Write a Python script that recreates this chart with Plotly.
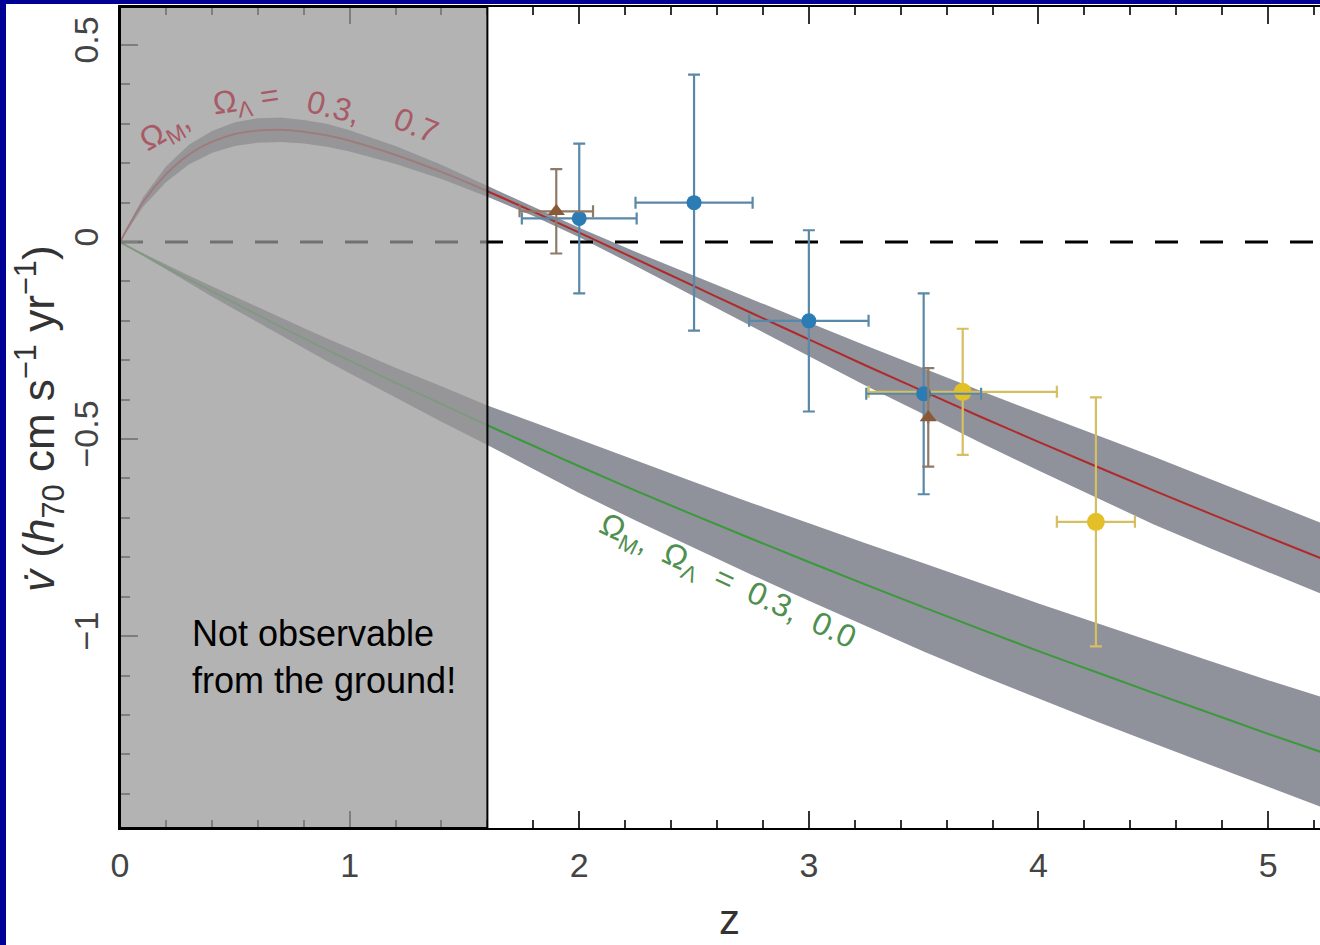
import plotly.graph_objects as go

# ---- data ----
z_curve = [0.0, 0.1, 0.2, 0.3, 0.4, 0.5, 0.6, 0.7, 0.8, 0.9, 1.0, 1.2, 1.4, 1.6, 1.8, 2.0,
           2.25, 2.5, 2.75, 3.0, 3.25, 3.5, 3.75, 4.0, 4.25, 4.5, 4.75, 5.0, 5.25]
v_lcdm = [0.0, 0.101, 0.172, 0.222, 0.254, 0.274, 0.283, 0.285, 0.280, 0.271, 0.257, 0.221,
          0.178, 0.129, 0.077, 0.024, -0.044, -0.112, -0.180, -0.247, -0.314, -0.379,
          -0.444, -0.507, -0.569, -0.630, -0.690, -0.749, -0.807]
hw_lcdm = [0.0, 0.012, 0.020, 0.025, 0.028, 0.030, 0.031, 0.031, 0.030, 0.029, 0.027, 0.023,
           0.018, 0.014, 0.011, 0.012, 0.018, 0.026, 0.034, 0.043, 0.051, 0.058, 0.066,
           0.073, 0.080, 0.086, 0.088, 0.089, 0.090]
v_open = [0.0, -0.032, -0.064, -0.095, -0.125, -0.155, -0.185, -0.215, -0.244, -0.273, -0.301,
          -0.357, -0.411, -0.465, -0.517, -0.569, -0.632, -0.693, -0.753, -0.812, -0.870,
          -0.927, -0.983, -1.038, -1.091, -1.144, -1.196, -1.248, -1.298]
hw_open = [0.0, 0.003, 0.006, 0.010, 0.013, 0.016, 0.019, 0.022, 0.026, 0.029, 0.032, 0.038,
           0.045, 0.050, 0.060, 0.068, 0.076, 0.084, 0.091, 0.098, 0.105, 0.112, 0.117,
           0.121, 0.125, 0.128, 0.132, 0.136, 0.140]

blue_z = [2.0, 2.5, 3.0, 3.5]
blue_v = [0.06, 0.10, -0.20, -0.385]
blue_ez = [0.25, 0.255, 0.26, 0.25]
blue_ev = [0.19, 0.325, 0.23, 0.255]

brown_z = [1.9, 3.52]
brown_v = [0.078, -0.445]
brown_ez = [0.16, 0.0]
brown_ev = [0.107, 0.125]

yellow_z = [3.67, 4.25]
yellow_v = [-0.38, -0.71]
yellow_ez = [0.41, 0.17]
yellow_ev = [0.16, 0.316]

zero_z = [0.0, 5.3]
zero_v = [0.0, 0.0]

x_ticks = [0, 1, 2, 3, 4, 5]
y_ticks = [0.5, 0, -0.5, -1]

FONT = "Liberation Sans, Arial, sans-serif"
BAND = "rgb(143,145,155)"

fig = go.Figure()

# bands
for v, hw, col in [(v_lcdm, hw_lcdm, BAND), (v_open, hw_open, BAND)]:
    up = [a + b for a, b in zip(v, hw)]
    lo = [a - b for a, b in zip(v, hw)]
    fig.add_trace(go.Scatter(x=z_curve, y=up, mode="lines", line=dict(width=0, color=col),
                             showlegend=False, hoverinfo="skip"))
    fig.add_trace(go.Scatter(x=z_curve, y=lo, mode="lines", line=dict(width=0, color=col),
                             fill="tonexty", fillcolor=col, showlegend=False, hoverinfo="skip"))

fig.add_trace(go.Scatter(x=z_curve, y=v_lcdm, mode="lines", line=dict(color="#b02a2a", width=2),
                         line_shape="spline", showlegend=False))
fig.add_trace(go.Scatter(x=z_curve, y=v_open, mode="lines", line=dict(color="#3a9a3a", width=2),
                         line_shape="spline", showlegend=False))

fig.add_trace(go.Scatter(x=zero_z, y=zero_v, mode="lines",
                         line=dict(color="black", width=3, dash="23px,22px"), showlegend=False))

def pts(zs, vs, ez, ev, mcol, bcol, sym, size):
    fig.add_trace(go.Scatter(
        x=zs, y=vs, mode="markers",
        marker=dict(color=mcol, size=size, symbol=sym),
        error_x=dict(type="data", array=ez, color=bcol, thickness=2.2, width=6),
        error_y=dict(type="data", array=ev, color=bcol, thickness=2.2, width=6),
        showlegend=False))

pts(yellow_z, yellow_v, yellow_ez, yellow_ev, "#e3bf28", "#d6bf62", "circle", 18)
pts(blue_z, blue_v, blue_ez, blue_ev, "#2b7bb5", "#5a88a8", "circle", 15)
pts(brown_z, brown_v, brown_ez, brown_ev, "#8a5a38", "#8f7a68", "triangle-up", 15)

# shaded region (not observable)
fig.add_shape(type="rect", xref="x", yref="paper", x0=0, x1=1.6, y0=0, y1=1,
              fillcolor="rgba(152,152,152,0.74)", line=dict(color="black", width=2), layer="above")

# blue frame strips
fig.add_shape(type="rect", xref="paper", yref="paper", x0=-0.1, x1=-0.095, y0=-0.2, y1=1.01,
              fillcolor="#000096", line=dict(width=0))
fig.add_shape(type="rect", xref="paper", yref="paper", x0=-0.1, x1=1.0, y0=1.0037, y1=1.01,
              fillcolor="#000096", line=dict(width=0))

ann = [
    dict(text="Not observable<br>from the ground!", x=0.305, y=-1.053, xref="x", yref="y",
         xanchor="left", yanchor="middle", align="left", showarrow=False,
         font=dict(family=FONT, size=36, color="black")),
    dict(text="Ω<sub>M</sub>,", x=0.200, y=0.280, textangle=-30),
    dict(text="Ω<sub>Λ</sub> =", x=0.548, y=0.356, textangle=-8),
    dict(text="0.3,", x=0.928, y=0.343, textangle=14),
    dict(text="0.7", x=1.289, y=0.297, textangle=22),
]
for a in ann[1:]:
    a.update(xref="x", yref="y", showarrow=False, xanchor="center", yanchor="middle",
             font=dict(family=FONT, size=32, color="#a85a66"))
fig.update_layout(annotations=ann)
fig.add_annotation(text="Ω<sub>M</sub>,  Ω<sub>Λ</sub>  =  0.3,  0.0", x=2.644, y=-0.865,
                   xref="x", yref="y", textangle=25, showarrow=False,
                   font=dict(family=FONT, size=32, color="#4f8f4f"))
fig.add_annotation(text="<i>v\u0307</i> (<i>h</i><sub>70</sub> cm s<sup>−1</sup> yr<sup>−1</sup>)",
                   x=-0.0667, y=0.4994, xref="paper", yref="paper", textangle=-90,
                   showarrow=False, xanchor="center", yanchor="middle",
                   font=dict(family=FONT, size=44, color="#333333"))
fig.add_annotation(text="z", x=0.508, y=-0.1425, xref="paper", yref="paper",
                   showarrow=False, xanchor="center", yanchor="bottom",
                   font=dict(family=FONT, size=42, color="#333333"))

fig.update_xaxes(range=[0, 5.226], tickvals=x_ticks, ticks="inside", ticklen=17, tickwidth=2,
                 tickcolor="#333333", showline=True, linecolor="black", linewidth=2,
                 mirror="ticks", showgrid=False, zeroline=False,
                 tickfont=dict(family=FONT, size=34, color="#444444"), ticklabelstandoff=6,
                 minor=dict(dtick=0.2, tick0=0, ticks="inside", ticklen=8, tickwidth=2,
                            tickcolor="#333333", showgrid=False))
fig.update_yaxes(range=[-1.487, 0.5965], tickvals=y_ticks, ticks="inside", ticklen=18,
                 tickwidth=2, tickcolor="#333333", showline=True, linecolor="black",
                 linewidth=2, showgrid=False, zeroline=False, tickangle=-90,
                 tickfont=dict(family=FONT, size=34, color="#444444"), ticklabelstandoff=6,
                 minor=dict(dtick=0.1, tick0=0, ticks="inside", ticklen=10, tickwidth=2,
                            tickcolor="#333333", showgrid=False))

fig.update_layout(width=1320, height=945, autosize=False,
                  margin=dict(l=120, r=0, t=7, b=117),
                  paper_bgcolor="white", plot_bgcolor="white", showlegend=False)

fig.write_html("out.html")
